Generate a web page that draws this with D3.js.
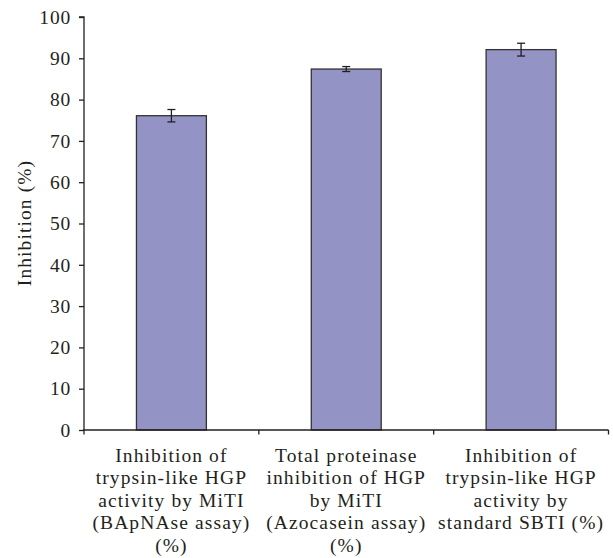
<!DOCTYPE html>
<html>
<head>
<meta charset="utf-8">
<script src="https://cdn.jsdelivr.net/npm/d3@7/dist/d3.min.js"></script>
<style>
  html, body { margin: 0; padding: 0; background: #fff; }
  svg { display: block; }
  text { font-family: "Liberation Serif", "Times New Roman", serif; fill: #231f20; }
</style>
</head>
<body>
<svg id="chart" width="613" height="558"></svg>
<script>
// Category labels (one array of lines per bar)
const categories = [
  ["Inhibition of", "trypsin-like HGP", "activity by MiTI", "(BApNAse assay)", "(%)"],
  ["Total proteinase", "inhibition of HGP", "by MiTI", "(Azocasein assay)", "(%)"],
  ["Inhibition of", "trypsin-like HGP", "activity by", "standard SBTI (%)"]
];
const inhibition = [76.1, 87.4, 92.1];
const errors = [1.5, 0.6, 1.55];
const yTicks = [0, 10, 20, 30, 40, 50, 60, 70, 80, 90, 100];

const svg = d3.select("#chart");
const x0 = 84, x1 = 608.5;
const y0 = 430, y1 = 17;
const fontSize = 19.5, spacing = 1.1;

const x = d3.scaleBand()
  .domain(d3.range(categories.length))
  .range([x0, x1])
  .paddingInner(0.6)
  .paddingOuter(0.3);

const y = d3.scaleLinear().domain([0, 100]).range([y0, y1]);

const ink = "#231f20";

// Bars
svg.append("g").selectAll("rect")
  .data(inhibition)
  .join("rect")
  .attr("x", (d, i) => x(i))
  .attr("y", d => y(d))
  .attr("width", x.bandwidth())
  .attr("height", d => y(0) - y(d))
  .attr("fill", "#9393c5")
  .attr("stroke", "#333")
  .attr("stroke-width", 1.3);

// Error bars
const eb = svg.append("g").attr("stroke", ink).attr("stroke-width", 1.3);
inhibition.forEach((v, i) => {
  const cx = x(i) + x.bandwidth() / 2;
  eb.append("line").attr("x1", cx).attr("x2", cx)
    .attr("y1", y(v + errors[i])).attr("y2", y(v - errors[i]));
  [v + errors[i], v - errors[i]].forEach(e => {
    eb.append("line").attr("x1", cx - 4).attr("x2", cx + 4)
      .attr("y1", y(e)).attr("y2", y(e));
  });
});

// Y axis
const yAxis = d3.axisLeft(y).tickValues(yTicks).tickSize(5).tickPadding(8);
const gy = svg.append("g").attr("transform", `translate(${x0},0)`).call(yAxis);
gy.select(".domain").attr("stroke", ink).attr("stroke-width", 1.3).attr("d", `M-5,${y1}H0V${y0}`);
gy.selectAll(".tick line").attr("stroke", ink).attr("stroke-width", 1.3);
gy.selectAll(".tick text").attr("font-size", fontSize).attr("fill", ink)
  .attr("font-family", "Liberation Serif, serif").attr("letter-spacing", 0.8);

// X axis with ticks on category boundaries
const boundaries = d3.range(categories.length + 1).map(i => x0 + i * x.step());
const gx = svg.append("g");
gx.append("line").attr("x1", x0 - 1).attr("x2", x1).attr("y1", y0).attr("y2", y0)
  .attr("stroke", ink).attr("stroke-width", 1.3);
gx.selectAll(".bt").data(boundaries).join("line")
  .attr("x1", d => d).attr("x2", d => d)
  .attr("y1", y0).attr("y2", y0 + 4.5)
  .attr("stroke", ink).attr("stroke-width", 1.3);

// Category labels
const lab = svg.append("g");
categories.forEach((lines, i) => {
  const cx = x(i) + x.bandwidth() / 2;
  const t = lab.append("text")
    .attr("text-anchor", "middle")
    .attr("font-size", fontSize)
    .attr("letter-spacing", spacing);
  lines.forEach((s, k) => {
    t.append("tspan").attr("x", cx).attr("y", 461.5 + k * 22.5).text(s);
  });
});

// Y axis title
svg.append("text")
  .attr("transform", "translate(31,223) rotate(-90)")
  .attr("text-anchor", "middle")
  .attr("font-size", fontSize)
  .attr("letter-spacing", spacing)
  .text("Inhibition (%)");
</script>
</body>
</html>
